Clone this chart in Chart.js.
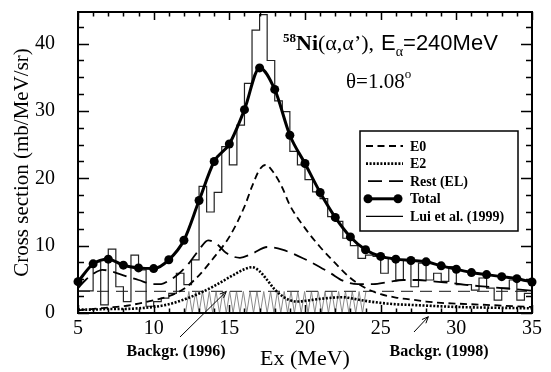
<!DOCTYPE html>
<html>
<head>
<meta charset="utf-8">
<script src="https://cdn.jsdelivr.net/npm/chart.js"></script>
<style>
    html, body { margin: 0; padding: 0; background: #fff; }
    canvas { display: block; }
</style>
</head>
<body>
<canvas id="myChart" width="551" height="372"></canvas>
<script>
// 58Ni(a,a') at 240 MeV, 1.08 deg: multipole decomposition vs. measured spectrum

const xTicks = [5, 10, 15, 20, 25, 30, 35];
const yTicks = [0, 10, 20, 30, 40];

// Total fit, one point per MeV
const totalEx  = [5, 6, 7, 8, 9, 10, 11, 12, 13, 14, 15, 16, 17, 18, 19, 20,
                  21, 22, 23, 24, 25, 26, 27, 28, 29, 30, 31, 32, 33, 34, 35];
const totalVal = [4.65, 7.3, 8.0, 7.1, 6.7, 6.6, 7.9, 10.8, 16.7, 22.5, 25.1, 30.2, 36.4, 33.2, 26.4, 22.2,
                  17.9, 14.2, 11.3, 9.4, 8.4, 8.0, 7.8, 7.6, 7.0, 6.5, 6.0, 5.7, 5.4, 5.1, 4.6];

// E0 strength
const e0Ex  = [5, 6, 7, 8, 9, 10, 11, 12, 13, 14, 15, 16, 16.5, 17, 17.4, 18, 18.5, 19, 20,
               21, 22, 23, 24, 25, 26, 27, 28, 29, 30, 31, 32, 33, 34, 35];
const e0Val = [0.4, 0.6, 0.8, 1.0, 1.4, 1.9, 2.5, 3.6, 5.6, 8.3, 11.3, 15.8, 18.8, 21.3, 22.0, 20.6, 18.6, 16.0, 12.6,
               9.8, 7.4, 5.2, 3.7, 2.8, 2.3, 2.0, 1.7, 1.5, 1.4, 1.3, 1.2, 1.1, 1.0, 0.9];

// E2 strength
const e2Ex  = [5, 6, 7, 8, 9, 10, 11, 12, 13, 14, 15, 16, 16.5, 17, 17.5, 18, 18.5, 19, 19.5, 20,
               21, 22, 22.5, 23, 24, 25, 26, 27, 28, 30, 32, 35];
const e2Val = [0.5, 0.5, 0.6, 0.6, 0.7, 0.9, 1.3, 2.0, 2.9, 4.0, 5.3, 6.5, 6.8, 6.2, 4.9, 3.5, 2.5, 1.9, 1.7, 1.8,
               2.1, 2.3, 2.35, 2.2, 1.8, 1.5, 1.3, 1.2, 1.1, 0.9, 0.8, 0.7];

// remaining multipoles
const restEx  = [5, 5.5, 6, 6.6, 7, 8, 9, 10, 10.5, 11, 11.7, 12.3, 13, 13.6, 14.2, 14.8, 15.7, 16.5, 17.5, 18.5,
                 19.9, 21, 21.7, 22.5, 23.5, 24.5, 25.5, 26.5, 27.5, 28.5, 29.5, 30.5, 31.5, 32.5, 33.5, 35];
const restVal = [3.7, 4.9, 5.8, 6.4, 6.3, 5.6, 4.9, 4.3, 4.3, 4.8, 5.9, 7.3, 9.4, 10.8, 10.2, 8.9, 8.2, 8.8, 9.8, 9.4,
                 8.1, 6.8, 5.9, 4.8, 4.3, 4.3, 4.6, 4.9, 4.9, 4.7, 4.5, 4.2, 4.0, 3.8, 3.6, 3.3];

// Lui et al. (1999), 0.5 MeV bins starting at 5 MeV
const luiStart = 5;
const luiBin = 0.5;
const luiVal = [
    3.3, 3.3, 7.6, 1.2, 9.5, 3.9, 1.7, 8.6, 6.4, 1.0,
    1.7, 2.2, 2.9, 5.9, 4.2, 7.9, 18.8, 15.0, 17.9, 24.7,
    22.0, 27.9, 34.1, 42.0, 44.3, 37.5, 31.5, 29.9, 24.0, 22.0,
    19.8, 18.0, 17.0, 14.3, 13.6, 11.1, 10.0, 8.1, 8.6, 8.4,
    5.9, 8.1, 4.9, 7.9, 3.9, 7.4, 4.9, 5.9, 4.7, 6.9,
    4.2, 4.2, 3.4, 5.2, 3.7, 1.9, 3.7, 4.9, 1.9, 2.9
];

// background estimates
const bg1998Level = 3.2;
const bg1996 = { from: 12.1, to: 24.2, level: 3.2, period: 0.45 };

const serif = '"Liberation Serif", "Times New Roman", serif';
const sans = '"Liberation Sans", Arial, sans-serif';

const pts = (xs, ys) => xs.map((x, i) => ({ x: x, y: ys[i] }));

const luiPts = luiVal.map((v, i) => ({ x: luiStart + i * luiBin, y: v }));
luiPts.push({ x: luiStart + luiVal.length * luiBin, y: luiVal[luiVal.length - 1] });

const styles = {
    e0:    { borderDash: [7, 4.5], borderWidth: 1.8 },
    e2:    { borderDash: [2, 1.6], borderWidth: 2.6 },
    rest:  { borderDash: [14, 7],  borderWidth: 1.8 },
    total: { borderDash: [],       borderWidth: 3 },
    lui:   { borderDash: [],       borderWidth: 1.2 },
};

// inward ticks on all four sides plus the heavy frame
const frame = {
    id: 'frame',
    afterDatasetsDraw(chart) {
        const { ctx, chartArea: a, scales: { x, y } } = chart;
        ctx.save();
        ctx.strokeStyle = '#000';
        ctx.lineWidth = 1.5;
        ctx.beginPath();
        for (let e = x.min; e <= x.max + 1e-6; e += 1) {
            const px = Math.round(x.getPixelForValue(e)) + 0.5;
            const len = xTicks.includes(e) ? 8 : 4.5;
            ctx.moveTo(px, a.bottom); ctx.lineTo(px, a.bottom - len);
            ctx.moveTo(px, a.top);    ctx.lineTo(px, a.top + len);
        }
        for (let v = 0; v <= y.max; v += 2.5) {
            const py = Math.round(y.getPixelForValue(v)) + 0.5;
            const len = yTicks.includes(v) ? 11 : 6;
            ctx.moveTo(a.left, py);  ctx.lineTo(a.left + len, py);
            ctx.moveTo(a.right, py); ctx.lineTo(a.right - len, py);
        }
        ctx.stroke();
        ctx.lineWidth = 2;
        ctx.strokeRect(a.left, a.top, a.right - a.left, a.bottom - a.top);
        ctx.restore();
    }
};

// hatched band for the 1996 background
const zigzag = {
    id: 'zigzag',
    beforeDatasetsDraw(chart) {
        const { ctx, scales: { x, y } } = chart;
        ctx.save();
        ctx.strokeStyle = '#8a8a8a';
        ctx.lineWidth = 1;
        ctx.beginPath();
        const half = bg1996.period / 2;
        let i = 0;
        for (let e = bg1996.from; e <= bg1996.to + 1e-6; e += half, i++) {
            const px = x.getPixelForValue(e);
            const py = y.getPixelForValue(i % 2 ? bg1996.level : 0);
            if (i === 0) ctx.moveTo(px, py); else ctx.lineTo(px, py);
        }
        ctx.stroke();
        ctx.restore();
    }
};

function arrow(ctx, x0, y0, x1, y1) {
    const ang = Math.atan2(y1 - y0, x1 - x0);
    ctx.beginPath();
    ctx.moveTo(x0, y0);
    ctx.lineTo(x1, y1);
    ctx.moveTo(x1 - 7 * Math.cos(ang - 0.4), y1 - 7 * Math.sin(ang - 0.4));
    ctx.lineTo(x1, y1);
    ctx.lineTo(x1 - 7 * Math.cos(ang + 0.4), y1 - 7 * Math.sin(ang + 0.4));
    ctx.stroke();
}

// draws a run of [text, font, dy] pieces left to right
function textRun(ctx, x, y, pieces) {
    pieces.forEach(([text, font, dy, gap]) => {
        ctx.font = font;
        ctx.fillText(text, x, y + (dy || 0));
        x += ctx.measureText(text).width + (gap || 0);
    });
}

const legendItems = [
    { text: 'E0',                key: 'e0' },
    { text: 'E2',                key: 'e2' },
    { text: 'Rest (EL)',         key: 'rest' },
    { text: 'Total',             key: 'total' },
    { text: 'Lui et al. (1999)', key: 'lui' },
];

const notes = {
    id: 'notes',
    afterDraw(chart) {
        const { ctx, scales: { x, y } } = chart;
        ctx.save();
        ctx.fillStyle = '#000';
        ctx.strokeStyle = '#000';

        // reaction label
        ctx.textAlign = 'left';
        ctx.textBaseline = 'alphabetic';
        textRun(ctx, 283, 50, [
            ['58', 'bold 13px ' + serif, -8],
            ['Ni', 'bold 22px ' + serif],
            ['(\u03b1,\u03b1\u2019),', '22px ' + serif, 0, 7],
            ['E', '22px ' + sans],
            ['\u03b1', '14px ' + serif, 6],
            ['=240MeV', '22px ' + sans],
        ]);
        textRun(ctx, 346, 88, [
            ['\u03b8=1.08', '21px ' + serif],
            ['o', '13px ' + serif, -10],
        ]);

        // background labels and arrows
        ctx.font = 'bold 16px ' + serif;
        ctx.textAlign = 'center';
        ctx.textBaseline = 'middle';
        ctx.fillText('Backgr. (1996)', 176, 352);
        ctx.fillText('Backgr. (1998)', 439, 352);
        ctx.lineWidth = 1;
        arrow(ctx, 180, 337, x.getPixelForValue(14.8), y.getPixelForValue(3.2));
        arrow(ctx, 414, 332, x.getPixelForValue(28.15), y.getPixelForValue(-0.55));

        // legend box
        ctx.fillStyle = '#fff';
        ctx.fillRect(360, 131, 158, 100);
        ctx.lineWidth = 1.5;
        ctx.strokeRect(360, 131, 158, 100);
        ctx.textAlign = 'left';
        ctx.font = 'bold 14px ' + serif;
        legendItems.forEach((item, i) => {
            const ly = 146 + i * 17.6;
            const st = styles[item.key];
            ctx.setLineDash(st.borderDash);
            ctx.lineWidth = st.borderWidth;
            ctx.beginPath();
            if (item.key === 'total') { ctx.moveTo(368, ly); ctx.lineTo(398, ly); }
            else if (item.key === 'rest') { ctx.moveTo(368, ly); ctx.lineTo(403, ly); }
            else { ctx.moveTo(366, ly); ctx.lineTo(403, ly); }
            ctx.stroke();
            ctx.setLineDash([]);
            if (item.key === 'total') {
                ctx.fillStyle = '#000';
                [368, 398].forEach(cx => { ctx.beginPath(); ctx.arc(cx, ly, 4.5, 0, Math.PI * 2); ctx.fill(); });
            }
            ctx.fillStyle = '#000';
            ctx.fillText(item.text, 410, ly + 1);
        });
        ctx.restore();
    }
};

const ctx = document.getElementById('myChart').getContext('2d');
const myChart = new Chart(ctx, {
    type: 'line',
    data: {
        datasets: [
            {
                label: 'Total',
                data: pts(totalEx, totalVal),
                borderColor: '#000',
                backgroundColor: '#000',
                ...styles.total,
                pointRadius: 4.5,
                pointBorderWidth: 0,
                cubicInterpolationMode: 'monotone',
                clip: false,
                order: 0,
            },
            {
                label: 'E0',
                data: pts(e0Ex, e0Val),
                borderColor: '#000',
                ...styles.e0,
                pointRadius: 0,
                cubicInterpolationMode: 'monotone',
                order: 1,
            },
            {
                label: 'E2',
                data: pts(e2Ex, e2Val),
                borderColor: '#000',
                ...styles.e2,
                pointRadius: 0,
                cubicInterpolationMode: 'monotone',
                order: 2,
            },
            {
                label: 'Rest (EL)',
                data: pts(restEx, restVal),
                borderColor: '#000',
                ...styles.rest,
                pointRadius: 0,
                cubicInterpolationMode: 'monotone',
                order: 3,
            },
            {
                label: 'Lui et al. (1999)',
                data: luiPts,
                borderColor: '#222',
                ...styles.lui,
                pointRadius: 0,
                stepped: 'before',
                order: 4,
            },
            {
                label: 'Backgr. (1998)',
                data: [{ x: 5, y: bg1998Level }, { x: 35, y: bg1998Level }],
                borderColor: '#444',
                borderWidth: 1.3,
                borderDash: [12, 7],
                pointRadius: 0,
                order: 5,
            },
        ],
    },
    options: {
        responsive: false,
        animation: false,
        layout: { padding: { left: 0, right: 19, top: 12, bottom: 0 } },
        plugins: { legend: { display: false }, tooltip: { enabled: false } },
        scales: {
            x: {
                type: 'linear',
                min: 5,
                max: 35,
                afterBuildTicks: s => { s.ticks = xTicks.map(v => ({ value: v })); },
                afterFit: s => { s.height = 59; },
                grid: { display: false, drawTicks: false },
                border: { display: false },
                ticks: { color: '#000', font: { family: serif, size: 20 }, padding: 4, maxRotation: 0 },
                title: { display: true, text: 'Ex (MeV)', color: '#000', font: { family: serif, size: 22 }, padding: 0 },
            },
            y: {
                min: 0,
                max: 44.7,
                afterBuildTicks: s => { s.ticks = yTicks.map(v => ({ value: v })); },
                afterFit: s => { s.width = 78; s.paddingTop = 8; s.paddingBottom = 8; },
                grid: { display: false, drawTicks: false },
                border: { display: false },
                ticks: { color: '#000', font: { family: serif, size: 20 }, padding: 23 },
                title: { display: true, text: 'Cross section (mb/MeV/sr)', color: '#000', font: { family: serif, size: 21 }, padding: 10 },
            },
        },
    },
    plugins: [zigzag, frame, notes],
});
</script>
</body>
</html>
